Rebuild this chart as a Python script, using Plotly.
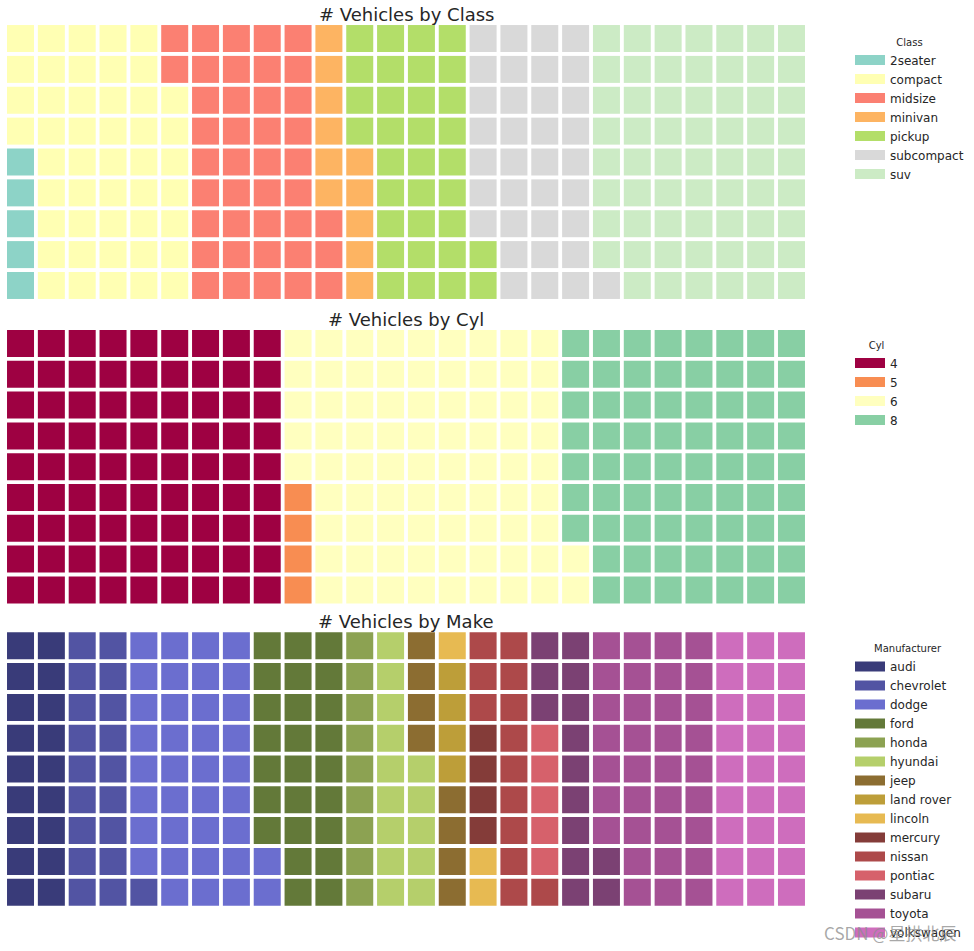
import plotly.graph_objects as go

# ---- data (mpg dataset counts) ----
class_labels = ['2seater', 'compact', 'midsize', 'minivan', 'pickup', 'subcompact', 'suv']
class_counts = [5, 47, 41, 11, 33, 35, 62]
class_colors = ['#8dd3c7', '#ffffb3', '#fb8072', '#fdb462', '#b3de69', '#d9d9d9', '#ccebc5']

cyl_labels = ['4', '5', '6', '8']
cyl_counts = [81, 4, 79, 70]
cyl_colors = ['#9e0142', '#f88d52', '#ffffbf', '#88cfa4']

make_labels = ['audi', 'chevrolet', 'dodge', 'ford', 'honda', 'hyundai', 'jeep',
               'land rover', 'lincoln', 'mercury', 'nissan', 'pontiac', 'subaru',
               'toyota', 'volkswagen']
make_counts = [18, 19, 37, 25, 9, 14, 8, 4, 3, 4, 13, 5, 14, 34, 27]
make_colors = ['#393b79', '#5254a3', '#6b6ecf', '#637939', '#8ca252', '#b5cf6b',
               '#8c6d31', '#bd9e39', '#e7ba52', '#843c39', '#ad494a', '#d6616b',
               '#7b4173', '#a55194', '#ce6dbd']

n_rows = 9
n_cols = 26

W, H = 974, 951
panels = [
    dict(title='# Vehicles by Class', legend_title='Class', labels=class_labels,
         counts=class_counts, colors=class_colors, top=23.1, bottom=300.9, leg_y=32.5),
    dict(title='# Vehicles by Cyl', legend_title='Cyl', labels=cyl_labels,
         counts=cyl_counts, colors=cyl_colors, top=328.1, bottom=605.3, leg_y=335.5),
    dict(title='# Vehicles by Make', legend_title='Manufacturer', labels=make_labels,
         counts=make_counts, colors=make_colors, top=630.4, bottom=907.6, leg_y=639),
]
x_left, x_right = 5.1, 806.9
cell_px = 27

fig = go.Figure()
layout = dict(
    width=W, height=H, margin=dict(l=0, r=0, t=0, b=0),
    plot_bgcolor='white', paper_bgcolor='white',
    font=dict(family='DejaVu Sans', color='#262626'),
    annotations=[], showlegend=True,
)

for i, p in enumerate(panels):
    suffix = '' if i == 0 else str(i + 1)
    xa, ya = 'x' + suffix, 'y' + suffix
    leg = 'legend' + suffix
    k = 0
    for lab, cnt, col in zip(p['labels'], p['counts'], p['colors']):
        xs, ys = [], []
        for _ in range(cnt):
            xs.append(k // n_rows)
            ys.append(k % n_rows)
            k += 1
        fig.add_trace(go.Scatter(
            x=xs, y=ys, mode='markers', xaxis=xa, yaxis=ya, showlegend=False,
            marker=dict(symbol='square', size=cell_px, color=col, line=dict(width=0)),
            hoverinfo='skip', name=lab))
        fig.add_trace(go.Scatter(
            x=[None], y=[None], mode='lines', xaxis=xa, yaxis=ya, name=lab,
            line=dict(color=col, width=10), legend=leg, showlegend=True))
    layout['xaxis' + suffix] = dict(
        domain=[x_left / W, x_right / W], range=[-0.5, n_cols - 0.5],
        visible=False, fixedrange=True, anchor=ya)
    layout['yaxis' + suffix] = dict(
        domain=[1 - p['bottom'] / H, 1 - p['top'] / H], range=[-0.5, n_rows - 0.5],
        visible=False, fixedrange=True, anchor=xa)
    layout[leg] = dict(
        x=850 / W, xanchor='left', y=1 - p['leg_y'] / H, yanchor='top',
        bgcolor='rgba(0,0,0,0)', borderwidth=0,
        font=dict(size=12, family='DejaVu Sans', color='#262626'),
        title=dict(text=p['legend_title'], side='top center',
                   font=dict(size=10, family='DejaVu Sans', color='#262626')),
        tracegroupgap=0, itemclick=False, itemdoubleclick=False)
    layout['annotations'].append(dict(
        text=p['title'], x=(x_left + x_right) / 2 / W, y=1 - (p['top'] + 3.5) / H,
        xref='paper', yref='paper', xanchor='center', yanchor='bottom',
        showarrow=False, font=dict(size=18, family='DejaVu Sans', color='#262626')))

layout['annotations'].append(dict(
    text='CSDN @星拱北辰', x=822 / W, y=1 - 932 / H, xref='paper', yref='paper',
    xanchor='left', yanchor='middle', showarrow=False,
    font=dict(size=17, family='Noto Sans CJK SC', color='rgba(140,140,140,0.75)')))

fig.update_layout(**layout)
fig.write_html('out.html')
